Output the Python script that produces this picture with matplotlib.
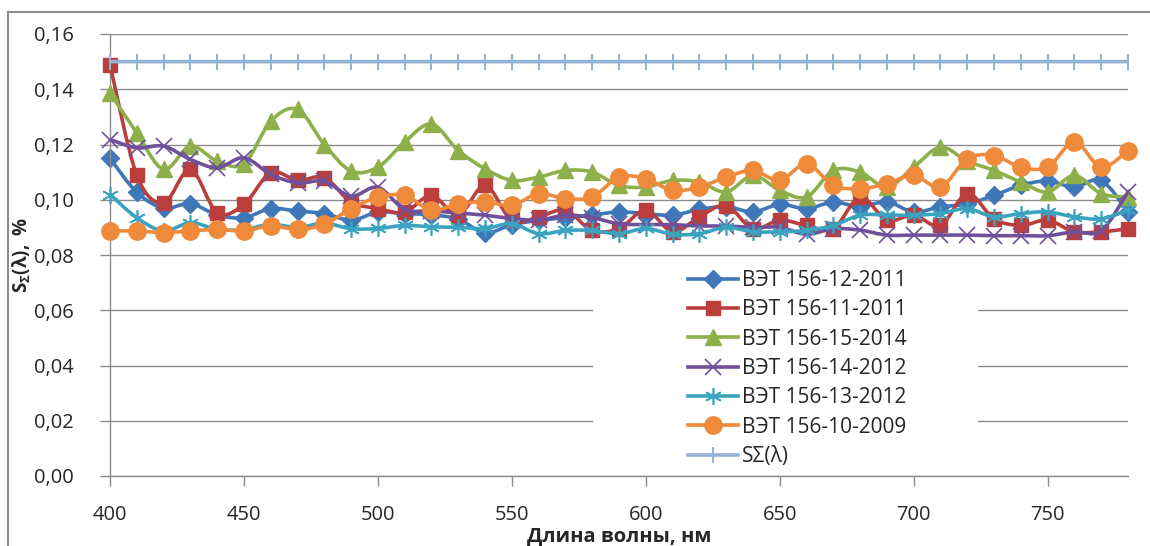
import numpy as np
import matplotlib
matplotlib.use("Agg")
import matplotlib.pyplot as plt
from matplotlib.path import Path
from matplotlib.patches import PathPatch, Rectangle
from matplotlib.lines import Line2D
from matplotlib.ticker import FuncFormatter

plt.rcParams['font.family'] = ['Open Sans', 'DejaVu Sans']
plt.rcParams['mathtext.fontset'] = 'custom'
plt.rcParams['mathtext.rm'] = 'Open Sans'
plt.rcParams['mathtext.bf'] = 'Open Sans:bold'
plt.rcParams['mathtext.it'] = 'Open Sans:italic'

# ---------------- data ----------------
wavelength = [400, 410, 420, 430, 440, 450, 460, 470, 480, 490,
              500, 510, 520, 530, 540, 550, 560, 570, 580, 590,
              600, 610, 620, 630, 640, 650, 660, 670, 680, 690,
              700, 710, 720, 730, 740, 750, 760, 770, 780]

vet_12_2011 = [0.1150, 0.1027, 0.0970, 0.0986, 0.0945, 0.0935, 0.0968, 0.0959, 0.0950, 0.0926,
               0.0955, 0.0950, 0.0945, 0.0930, 0.0880, 0.0910, 0.0925, 0.0935, 0.0945, 0.0956,
               0.0950, 0.0944, 0.0965, 0.0975, 0.0956, 0.0983, 0.0968, 0.0991, 0.0975, 0.0992,
               0.0956, 0.0974, 0.0985, 0.1016, 0.1052, 0.1068, 0.1046, 0.1070, 0.0956]

vet_11_2011 = [0.1489, 0.1089, 0.0989, 0.1110, 0.0953, 0.0983, 0.1098, 0.1070, 0.1080, 0.0992,
               0.0968, 0.0955, 0.1016, 0.0944, 0.1052, 0.0925, 0.0938, 0.0962, 0.0889, 0.0895,
               0.0962, 0.0884, 0.0938, 0.0979, 0.0895, 0.0926, 0.0907, 0.0895, 0.1009, 0.0926,
               0.0944, 0.0907, 0.1022, 0.0931, 0.0907, 0.0926, 0.0884, 0.0884, 0.0895]

vet_15_2014 = [0.1387, 0.1242, 0.1110, 0.1194, 0.1140, 0.1130, 0.1284, 0.1327, 0.1200, 0.1104,
               0.1118, 0.1209, 0.1274, 0.1178, 0.1112, 0.1070, 0.1082, 0.1106, 0.1100, 0.1052,
               0.1046, 0.1070, 0.1064, 0.1028, 0.1088, 0.1034, 0.1010, 0.1106, 0.1100, 0.1046,
               0.1118, 0.1190, 0.1140, 0.1106, 0.1064, 0.1028, 0.1088, 0.1022, 0.1010]

vet_14_2012 = [0.1218, 0.1188, 0.1194, 0.1146, 0.1116, 0.1152, 0.1092, 0.1061, 0.1067, 0.1013,
               0.1045, 0.0965, 0.0960, 0.0952, 0.0944, 0.0932, 0.0926, 0.0944, 0.0935, 0.0913,
               0.0910, 0.0910, 0.0905, 0.0905, 0.0900, 0.0900, 0.0875, 0.0895, 0.0890, 0.0872,
               0.0872, 0.0872, 0.0872, 0.0870, 0.0870, 0.0870, 0.0884, 0.0888, 0.1028]

vet_13_2012 = [0.1019, 0.0935, 0.0887, 0.0917, 0.0893, 0.0892, 0.0911, 0.0900, 0.0915, 0.0895,
               0.0896, 0.0907, 0.0902, 0.0900, 0.0896, 0.0913, 0.0877, 0.0889, 0.0889, 0.0877,
               0.0896, 0.0875, 0.0877, 0.0900, 0.0884, 0.0884, 0.0889, 0.0907, 0.0944, 0.0945,
               0.0944, 0.0950, 0.0968, 0.0938, 0.0950, 0.0956, 0.0938, 0.0931, 0.0962]

vet_10_2009 = [0.0887, 0.0887, 0.0881, 0.0887, 0.0893, 0.0887, 0.0905, 0.0893, 0.0911, 0.0968,
               0.1009, 0.1016, 0.0962, 0.0986, 0.0992, 0.0980, 0.1022, 0.1004, 0.1010, 0.1082,
               0.1076, 0.1034, 0.1046, 0.1082, 0.1106, 0.1070, 0.1130, 0.1052, 0.1040, 0.1058,
               0.1088, 0.1046, 0.1148, 0.1160, 0.1118, 0.1118, 0.1209, 0.1118, 0.1178]

s_sigma = [0.15, 0.15, 0.15, 0.15, 0.15, 0.15, 0.15, 0.15, 0.15, 0.15,
           0.15, 0.15, 0.15, 0.15, 0.15, 0.15, 0.15, 0.15, 0.15, 0.15,
           0.15, 0.15, 0.15, 0.15, 0.15, 0.15, 0.15, 0.15, 0.15, 0.15,
           0.15, 0.15, 0.15, 0.15, 0.15, 0.15, 0.15, 0.15, 0.15]

series_labels = ['ВЭТ 156-12-2011', 'ВЭТ 156-11-2011', 'ВЭТ 156-15-2014',
                 'ВЭТ 156-14-2012', 'ВЭТ 156-13-2012', 'ВЭТ 156-10-2009', 'SΣ(λ)']

y_ticks = [0.00, 0.02, 0.04, 0.06, 0.08, 0.10, 0.12, 0.14, 0.16]
x_ticks = [400, 450, 500, 550, 600, 650, 700, 750]

# ---------------- styles ----------------
series = [vet_12_2011, vet_11_2011, vet_15_2014, vet_14_2012, vet_13_2012, vet_10_2009, s_sigma]
colors = ['#3F77B8', '#BA3F3C', '#8DB04B', '#70509A', '#3AA3BF', '#EE8A3A', '#95B3D7']
markers = ['D', 's', '^', 'x', (6, 2, 0), 'o', '|']
msizes = [9.5, 10.5, 11.5, 11, 12, 12.5, 12]
mews = [1, 1, 1, 1.2, 1.2, 1, 1.5]


def smooth_path(xs, ys):
    pts = np.column_stack([np.asarray(xs, float), np.asarray(ys, float)])
    n = len(pts)
    verts = [pts[0]]
    codes = [Path.MOVETO]
    for i in range(n - 1):
        p0 = pts[i - 1] if i > 0 else pts[i]
        p1 = pts[i]
        p2 = pts[i + 1]
        p3 = pts[i + 2] if i + 2 < n else pts[i + 1]
        c1 = p1 + (p2 - p0) / 6.0
        c2 = p2 - (p3 - p1) / 6.0
        verts += [c1, c2, p2]
        codes += [Path.CURVE4] * 3
    return Path(verts, codes)


fig = plt.figure(figsize=(11.5, 5.46), dpi=100)
ax = fig.add_axes([110 / 1150, 1 - 476 / 546, (1128 - 110) / 1150, (476 - 34) / 546])

ax.set_xlim(400, 780)
ax.set_ylim(0, 0.16)

handles = []
for i, (ys, c, m, ms, mw, lab) in enumerate(zip(series, colors, markers, msizes, mews, series_labels)):
    z = 2 + i
    patch = PathPatch(smooth_path(wavelength, ys), facecolor='none', edgecolor=c,
                      lw=2.6, zorder=z, capstyle='round', joinstyle='round')
    ax.add_patch(patch)
    if m in ('x', (6, 2, 0), '|'):
        ax.plot(wavelength, ys, linestyle='none', marker=m, markersize=ms,
                color=c, markeredgewidth=mw, zorder=z + 0.5, clip_on=False)
    else:
        ax.plot(wavelength, ys, linestyle='none', marker=m, markersize=ms,
                markerfacecolor=c, markeredgecolor=c, zorder=z + 0.5, clip_on=False)
    handles.append(Line2D([], [], color=c, lw=2.6, marker=m,
                          markersize=ms, markerfacecolor=c, markeredgecolor=c,
                          markeredgewidth=mw, label=lab))

# grid and axes
ax.set_yticks(y_ticks)
ax.set_xticks(x_ticks)
ax.yaxis.set_major_formatter(FuncFormatter(lambda v, p: f"{v:.2f}".replace('.', ',')))
ax.grid(axis='y', color='#8C8C8C', lw=1.0)
ax.set_axisbelow(True)
for s in ['top', 'right']:
    ax.spines[s].set_visible(False)
for s in ['left', 'bottom']:
    ax.spines[s].set_color('#8C8C8C')
    ax.spines[s].set_linewidth(1.0)
ax.tick_params(axis='both', colors='#8C8C8C', length=7, width=1, labelcolor='#262626')
ax.tick_params(axis='y', labelsize=14.5, pad=19)
ax.tick_params(axis='x', labelsize=14.5, pad=14)

# white legend area
ax.add_patch(Rectangle((0.4745, 0.004), 0.378, 0.47, transform=ax.transAxes,
                       facecolor='white', edgecolor='none', zorder=1))

leg = ax.legend(handles=handles, loc='upper left',
                bbox_to_anchor=((688 - 110) / 1018, (476 - 270) / 442),
                frameon=False, fontsize=15, handlelength=2.4, handletextpad=0.2,
                labelspacing=0.40, borderpad=0, borderaxespad=0)
for t in leg.get_texts():
    t.set_color('#262626')

ax.set_ylabel(r'$\mathbf{S_{Σ}(λ),\ \%}$', fontsize=13.5, color='#262626')
ax.yaxis.set_label_coords(-0.076, 0.5)
ax.set_xlabel('Длина волны, нм', fontsize=14.5, fontweight='bold', color='#262626')
ax.xaxis.set_label_coords(0.5, -0.115)

# figure border (chart area)
fig.add_artist(Line2D([8 / 1150, 8 / 1150], [0, 1 - 12 / 546], transform=fig.transFigure,
                      color='#8C8C8C', lw=1.5))
fig.add_artist(Line2D([8 / 1150, 1], [1 - 12 / 546, 1 - 12 / 546], transform=fig.transFigure,
                      color='#8C8C8C', lw=1.5))

fig.savefig('out.png', dpi=100)
